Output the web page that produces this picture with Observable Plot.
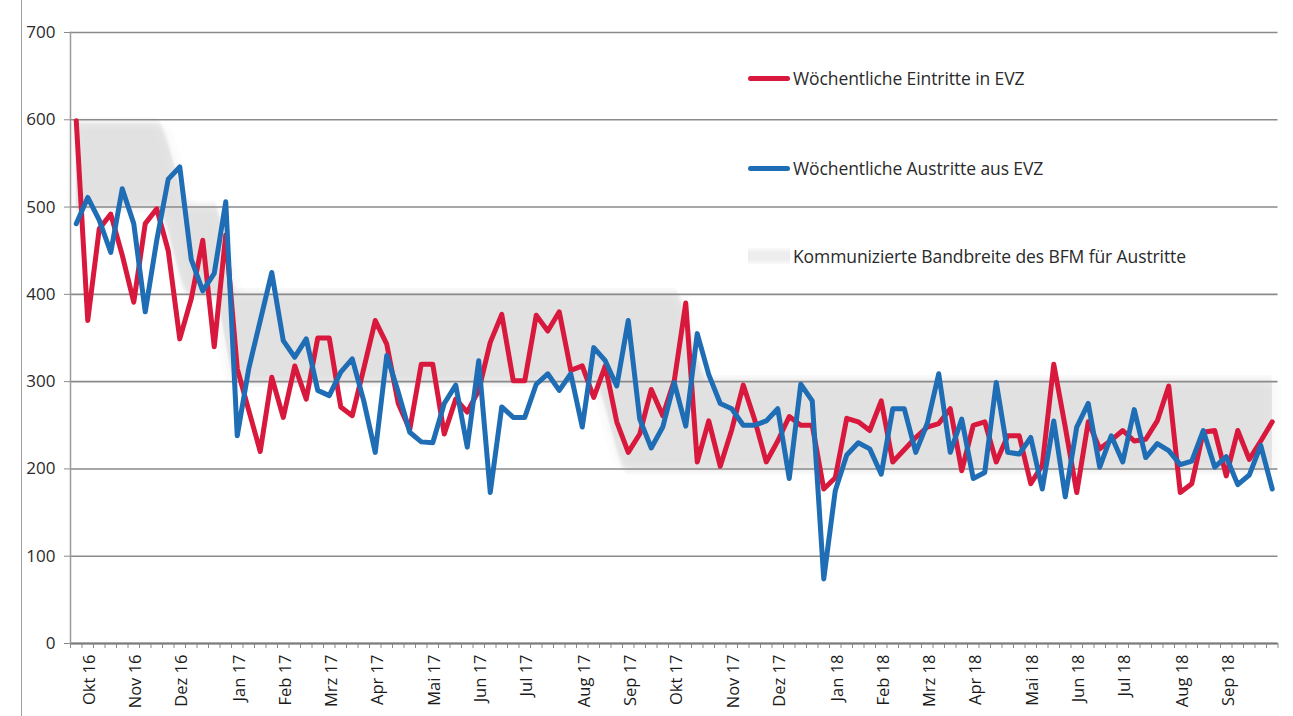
<!DOCTYPE html>
<html>
<head>
<meta charset="utf-8">
<script src="https://cdn.jsdelivr.net/npm/d3@7"></script>
<script src="https://cdn.jsdelivr.net/npm/@observablehq/plot@0.6"></script>
<style>
  body { margin: 0; background: #fff; font-family: "Open Sans", sans-serif; }
  #wrap { position: relative; width: 1293px; height: 716px; overflow: hidden; background: #fff; }
  #scanline { position: absolute; left: 21px; top: 0; width: 1px; height: 716px; background: #a0a0a0; }
  .leg { position: absolute; left: 748px; height: 22px; display: flex; align-items: center; font-size: 17.5px; color: #2a2a2a; white-space: nowrap; letter-spacing: -0.1px; }
  .sw { width: 42px; height: 5px; border-radius: 3px; margin-right: 3px; }
  .swband { width: 42px; height: 16px; margin-right: 3px;
            background: linear-gradient(to bottom, #fafafa 0%, #ededed 30%, #ededed 70%, #fafafa 100%); }
</style>
</head>
<body>
<div id="wrap"><div id="scanline"></div></div>
<script>
// Weekly values, week 0 = end of Sep 2016 ... week 104 = early Oct 2018
const eintritte = [
  599, 370, 475, 492, 445, 391, 481, 498, 450, 349,
  395, 462, 340, 468, 315, 267, 220, 305, 259, 318,
  280, 350, 350, 271, 261, 315, 370, 343, 275, 245,
  320, 320, 240, 280, 265, 290, 345, 377, 301, 301,
  376, 358, 380, 313, 318, 282, 318, 254, 219, 240,
  291, 261, 301, 390, 208, 255, 203, 245, 296, 256,
  208, 232, 260, 250, 250, 177, 190, 258, 254, 244,
  278, 208, 222, 236, 248, 252, 269, 198, 250, 254,
  208, 238, 238, 183, 204, 320, 248, 173, 254, 223,
  233, 244, 232, 234, 255, 295, 173, 183, 242, 244,
  192, 244, 211, 232, 254
];
const austritte = [
  481, 511, 485, 448, 521, 481, 380, 462, 532, 546,
  440, 404, 424, 506, 238, 315, 370, 425, 347, 328,
  349, 290, 284, 311, 326, 278, 219, 330, 288, 242,
  231, 230, 275, 296, 225, 324, 173, 271, 259, 259,
  297, 309, 290, 309, 248, 339, 324, 295, 370, 257,
  224, 248, 299, 249, 355, 308, 275, 269, 250, 250,
  255, 269, 189, 297, 278, 74, 175, 216, 230, 223,
  194, 269, 269, 219, 252, 309, 219, 257, 189, 196,
  299, 219, 217, 236, 177, 255, 168, 248, 275, 202,
  238, 208, 268, 213, 229, 221, 205, 209, 244, 202,
  214, 182, 193, 227, 177
];
// Communicated range (BFM) for exits: breakpoints in weeks
const bandWeeks = [0, 7, 10, 12, 14, 45, 48, 52, 55, 104];
const bandLow   = [500, 500, 400, 400, 300, 300, 200, 200, 200, 200];
const bandHigh  = [595, 595, 500, 500, 400, 400, 400, 400, 300, 300];

const monthWeeks  = [1, 5, 9, 14, 18, 22, 26, 31, 35, 39, 44, 48, 52, 57, 61, 66, 70, 74, 78, 83, 87, 91, 96, 100];
const monthLabels = ["Okt 16","Nov 16","Dez 16","Jan 17","Feb 17","Mrz 17","Apr 17","Mai 17","Jun 17","Jul 17","Aug 17","Sep 17",
                     "Okt 17","Nov 17","Dez 17","Jan 18","Feb 18","Mrz 18","Apr 18","Mai 18","Jun 18","Jul 18","Aug 18","Sep 18"];
const yTicks = [0, 100, 200, 300, 400, 500, 600, 700];

const legendLabels = ["Wöchentliche Eintritte in EVZ", "Wöchentliche Austritte aus EVZ", "Kommunizierte Bandbreite des BFM für Austritte"];
const colors = { ein: "#d8193d", aus: "#1f6db4", band: "#dedede", grid: "#8a8a8a" };

const rows = eintritte.map((v, i) => ({ week: i, ein: v, aus: austritte[i] }));
const band = bandWeeks.map((w, i) => ({ week: w, low: bandLow[i], high: bandHigh[i] }));
const labelByWeek = new Map(monthWeeks.map((w, i) => [w, monthLabels[i]]));
const weekTicks = rows.map(d => d.week - 0.5).concat([rows.length - 0.5]);

// soft-edged band: several faint copies of the same area, slightly offset (styling only)
const softShifts = [-6, -3, 0, 3, 6];
const bandLayers = softShifts.flatMap(s => [
  Plot.areaY(band, { x: "week", y1: "low", y2: "high", curve: "monotone-x", fill: colors.band, fillOpacity: 0.2, dy: s }),
  Plot.areaY(band, { x: "week", y1: "low", y2: "high", curve: "monotone-x", fill: colors.band, fillOpacity: 0.08, dx: s * 1.5 })
]);

const chart = Plot.plot({
  width: 1293,
  height: 716,
  marginLeft: 70,
  marginRight: 15.5,
  marginTop: 32,
  marginBottom: 73,
  x: { domain: [-0.5, rows.length - 0.5] },
  y: { domain: [0, 700] },
  style: { fontFamily: "Open Sans, sans-serif", fontSize: "17px", color: "#2a2a2a", background: "transparent" },
  marks: [
    ...bandLayers,
    Plot.gridY({ ticks: yTicks, stroke: colors.grid, strokeOpacity: 1, strokeWidth: 1.6 }),
    Plot.axisY({ ticks: yTicks, tickSize: 6, tickPadding: 9, stroke: colors.grid, label: null, fontSize: 17, fill: "#2a2a2a" }),
    Plot.axisX({ ticks: weekTicks, tickSize: 5, tickFormat: () => "", stroke: colors.grid, label: null }),
    Plot.axisX({ ticks: monthWeeks, tickSize: 0, tickPadding: 11, tickRotate: -90, tickFormat: d => labelByWeek.get(d), label: null, fontSize: 16.5, fill: "#1a1a1a", dx: 2 }),
    Plot.ruleY([0], { stroke: "#7a7a7a", strokeWidth: 1.8 }),
    Plot.frame({ anchor: "left", stroke: "#9a9a9a", strokeWidth: 1.5 }),
    Plot.lineY(rows, { x: "week", y: "ein", stroke: colors.ein, strokeWidth: 5, strokeLinejoin: "round", strokeLinecap: "round" }),
    Plot.lineY(rows, { x: "week", y: "aus", stroke: colors.aus, strokeWidth: 5, strokeLinejoin: "round", strokeLinecap: "round" })
  ]
});

const wrap = document.getElementById("wrap");
wrap.appendChild(chart);
chart.style.position = "absolute";
chart.style.left = "0px";
chart.style.top = "0px";

const legTops = [67, 157, 245];
legendLabels.forEach((t, i) => {
  const d = document.createElement("div");
  d.className = "leg";
  d.style.top = legTops[i] + "px";
  const sw = document.createElement("span");
  if (i < 2) { sw.className = "sw"; sw.style.background = i === 0 ? colors.ein : colors.aus; }
  else { sw.className = "swband"; }
  d.appendChild(sw);
  const tx = document.createElement("span");
  tx.textContent = t;
  d.appendChild(tx);
  wrap.appendChild(d);
});
</script>
</body>
</html>
